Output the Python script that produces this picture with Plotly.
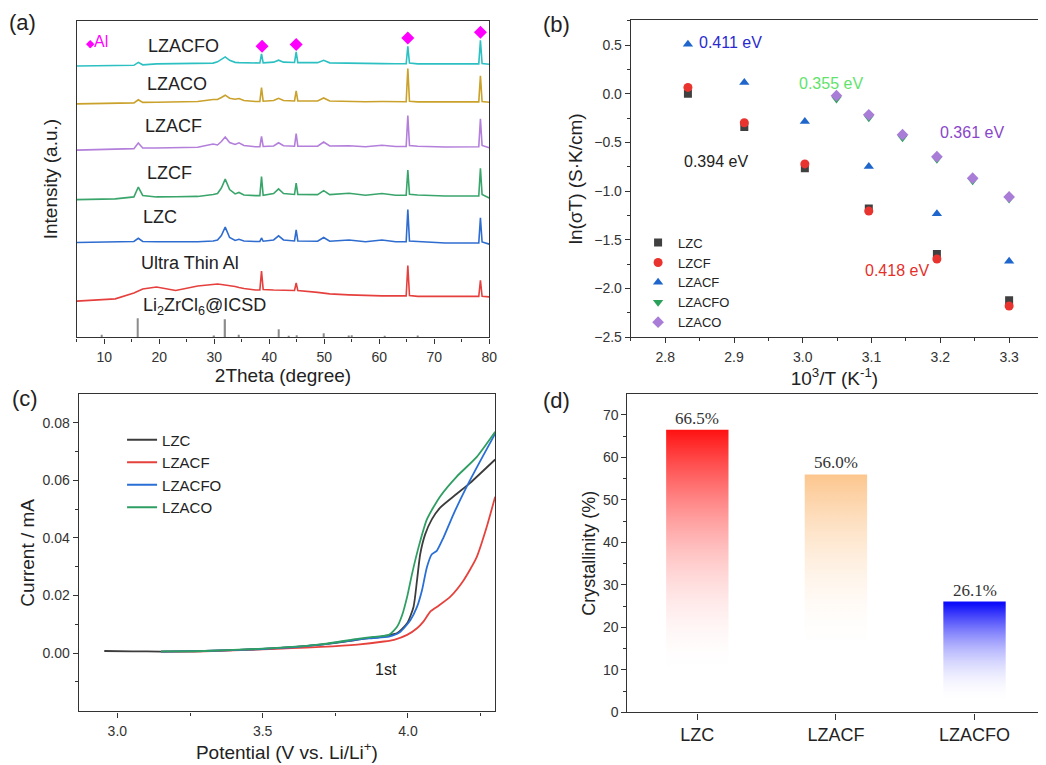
import plotly.graph_objects as go

W, H = 1046, 765
FONT = "Liberation Sans, Arial, sans-serif"
SERIF = "Liberation Serif, Times New Roman, serif"

# ---------------- (a) XRD ----------------
XRD_X = [5, 12, 15.4, 16.2, 17.0, 19.5, 23, 27, 29.8, 30.6, 31.3, 32.0, 32.8, 33.8, 34.5, 35.4,
         37.5, 38.3, 38.6, 38.9, 40.8, 41.7, 42.6, 44.6, 44.9, 45.2, 48.8, 49.9, 51.0, 54.5,
         57.5, 60.5, 63, 64.9, 65.2, 65.5, 67, 72, 78.1, 78.4, 78.7, 80]
LZACFO_Y = [274.3, 274.7, 275, 278, 275.5, 276.5, 276.5, 276.5, 277.2, 278.5, 281, 283.5, 280, 278,
            277.7, 277.5, 277.3, 277.3, 286.5, 277.5, 278.2, 280.2, 278.2, 277.8, 288.5, 277.7,
            277.7, 280, 277.5, 277, 276.8, 276.7, 276.6, 276.6, 294.2, 277.2, 276.5, 276.4,
            276.4, 300.3, 276.7, 276]
LZACO_Y = [236, 236.5, 237, 240.2, 237.5, 237.7, 238, 238.5, 240.5, 240.5, 242.5, 244.8, 241.7,
           240.7, 241.5, 239.5, 238.5, 238.5, 252.5, 238.7, 239.5, 241.7, 239.5, 239, 249.2, 239,
           239, 242, 239, 238.4, 238.2, 238.4, 238.2, 238.2, 271.7, 238.7, 238, 238, 238, 264.3,
           238.5, 237.7]
LZACF_Y = [189.3, 190, 190.8, 196.5, 191.5, 191.5, 191.8, 192.2, 195.5, 194.5, 198, 202.5, 197,
           195, 196.7, 194, 192.7, 192.7, 203.2, 193, 193.5, 196.7, 193.7, 193.2, 206, 193.2,
           193.2, 197.5, 193.5, 193.7, 192.7, 194.2, 193, 193, 224.2, 194, 193.2, 192.5, 192.7,
           221, 194, 191.7]
LZCF_Y = [139.3, 140, 142, 152, 143.5, 142, 142.2, 142.5, 144.5, 145.5, 151, 160, 149.5, 145,
          146.5, 144, 143.3, 143.3, 162.5, 143.7, 145.5, 150.2, 145.5, 144.5, 156, 144.5, 144.3,
          148.3, 144.3, 145.7, 143.7, 145.5, 143.7, 143.7, 169.2, 144.7, 144, 143, 143, 171,
          144.5, 141]
LZC_Y = [96, 96.5, 97, 100.2, 97, 96.7, 96.7, 96.7, 97.5, 98.5, 103, 111.5, 101, 98, 99.2, 97.5,
         97, 97, 100.5, 97.2, 98.5, 102.7, 98.5, 97.5, 108.7, 97.5, 97.2, 101, 97.2, 98.5, 96.7,
         98.5, 96.7, 96.7, 129.2, 97.5, 97, 95.5, 95.5, 121, 96.5, 94.3]
AL_FOIL_Y = [36.7, 39, 45, 47, 49, 51, 47.5, 52, 54, 54, 53.5, 53, 52.5, 51.5, 50.5, 49.5, 48,
             48, 67, 48.5, 48, 48, 47.7, 47.5, 55, 47.5, 45.5, 44.7, 44, 43, 42.3, 42, 42, 42,
             72.7, 42.3, 41.5, 41.5, 41.5, 57.7, 41.5, 41]
XRD_NAMES = ["LZACFO", "LZACO", "LZACF", "LZCF", "LZC", "Ultra Thin Al"]
XRD_SERIES = [LZACFO_Y, LZACO_Y, LZACF_Y, LZCF_Y, LZC_Y, AL_FOIL_Y]
XRD_COLORS = ["#2cc0c2", "#caa12a", "#b37fda", "#3aa56b", "#2f6ccf", "#e5403d"]
XRD_LABEL_X = [17.6, 17.5, 17.0, 17.4, 16.6, 16.3]
XRD_LABEL_Y = [294.3, 256, 214, 166, 122, 75]

ICSD_X = [9.5, 16.1, 30.0, 32.0, 34.5, 41.7, 43.5, 45.0, 49.9, 54.5, 55.0, 61.0, 67.0]
ICSD_H = [2.7, 19.3, 2.0, 18.3, 2.7, 8.3, 1.8, 2.2, 4.3, 2.0, 2.2, 1.8, 2.0]

AL_PEAK_X = [38.7, 44.9, 65.2, 78.4]
AL_MARK_Y = [294.3, 296, 302.7, 308.3]

# ---------------- (b) Arrhenius ----------------
B_LZC_X = [2.833, 2.915, 3.003, 3.096, 3.195, 3.300]
B_LZC_Y = [0.0, -0.34, -0.764, -1.178, -1.646, -2.12]
B_LZCF_Y = [0.066, -0.297, -0.72, -1.205, -1.697, -2.18]
B_LZACF_Y = [0.51, 0.117, -0.283, -0.747, -1.232, -1.72]
B_LZACFO_X = [3.049, 3.096, 3.145, 3.195, 3.247, 3.300]
B_LZACFO_Y = [-0.053, -0.246, -0.452, -0.673, -0.893, -1.08]
B_LZACO_Y = [-0.019, -0.215, -0.419, -0.646, -0.866, -1.059]
EA_TEXT = ["0.411 eV", "0.355 eV", "0.361 eV", "0.394 eV", "0.418 eV"]
EA_X = [2.846, 2.992, 3.197, 2.824, 3.088]
EA_Y = [0.53, 0.11, -0.401, -0.69, -1.815]
EA_COLORS = ["#2a2ad0", "#5fe36a", "#8a45c9", "#222222", "#e5302a"]

# ---------------- (c) LSV ----------------
C_LZC_X = [2.955, 3.05, 3.15, 3.3, 3.5, 3.6, 3.7, 3.8, 3.85, 3.9, 3.93, 3.963, 3.997, 4.019,
           4.031, 4.042, 4.059, 4.082, 4.11, 4.167, 4.213, 4.3]
C_LZC_Y = [0.0007, 0.0006, 0.0005, 0.0007, 0.0014, 0.002, 0.0029, 0.0042, 0.005, 0.0055, 0.0061,
           0.0069, 0.0103, 0.016, 0.0252, 0.0343, 0.0412, 0.0464, 0.0504, 0.0552, 0.059, 0.0672]
C_LZACF_X = [3.15, 3.3, 3.5, 3.6, 3.7, 3.826, 3.917, 3.952, 3.997, 4.031, 4.053, 4.076, 4.099,
             4.145, 4.191, 4.236, 4.27, 4.3]
C_LZACF_Y = [0.0005, 0.0006, 0.0013, 0.0017, 0.0021, 0.0029, 0.004, 0.0046, 0.0063, 0.0086,
             0.0109, 0.0143, 0.016, 0.0195, 0.0252, 0.0332, 0.0435, 0.0543]
C_LZACFO_X = [3.15, 3.3, 3.5, 3.6, 3.7, 3.826, 3.88, 3.934, 3.974, 4.008, 4.031, 4.048, 4.065,
              4.082, 4.099, 4.122, 4.156, 4.202, 4.247, 4.3]
C_LZACFO_Y = [0.0005, 0.0007, 0.0014, 0.002, 0.0029, 0.0047, 0.0052, 0.0057, 0.0074, 0.0114,
              0.016, 0.0217, 0.0298, 0.0343, 0.0355, 0.0401, 0.0481, 0.0578, 0.0664, 0.0762]
C_LZACO_X = [3.15, 3.3, 3.5, 3.6, 3.7, 3.826, 3.88, 3.934, 3.963, 3.98, 3.997, 4.014, 4.036,
             4.065, 4.11, 4.167, 4.236, 4.3]
C_LZACO_Y = [0.0006, 0.0007, 0.0015, 0.0021, 0.003, 0.0049, 0.0056, 0.0063, 0.0092, 0.0132,
             0.0195, 0.0275, 0.0366, 0.0464, 0.0543, 0.0612, 0.068, 0.0768]

# ---------------- (d) Crystallinity ----------------
D_CATS = ["LZC", "LZACF", "LZACFO"]
D_VALS = [66.5, 56.0, 26.1]
D_LABELS = ["66.5%", "56.0%", "26.1%"]
D_FADE = [9, 14, 3]
D_COLORS = ["rgb(255,18,18)", "rgb(252,198,142)", "rgb(12,12,250)"]
BAR_W = 0.45

fig = go.Figure()

# (a)
for name, ys, col in zip(XRD_NAMES, XRD_SERIES, XRD_COLORS):
    fig.add_trace(go.Scatter(x=XRD_X, y=ys, mode="lines", name=name, showlegend=False,
                             line=dict(color=col, width=1.6), xaxis="x", yaxis="y"))
fig.add_trace(go.Bar(x=ICSD_X, y=ICSD_H, width=0.25, marker=dict(color="#8c8c8c", line=dict(width=0)),
                     showlegend=False, name="Li2ZrCl6@ICSD", xaxis="x", yaxis="y"))
fig.add_trace(go.Scatter(x=AL_PEAK_X, y=AL_MARK_Y, mode="markers", name="Al", showlegend=False,
                         marker=dict(symbol="diamond", size=10, color="#ff00ff"), xaxis="x", yaxis="y"))

# (b)
b_series = [
    ("LZC", B_LZC_X, B_LZC_Y, "square", "#404040", 8),
    ("LZCF", B_LZC_X, B_LZCF_Y, "circle", "#e8332e", 9),
    ("LZACF", B_LZC_X, B_LZACF_Y, "triangle-up", "#1f66cc", 9),
    ("LZACFO", B_LZACFO_X, B_LZACFO_Y, "triangle-down", "#2aa05a", 9),
    ("LZACO", B_LZACFO_X, B_LZACO_Y, "diamond", "#a97cd8", 9),
]
for name, xs, ys, sym, col, sz in b_series:
    fig.add_trace(go.Scatter(x=xs, y=ys, mode="markers", name=name, legend="legend",
                             marker=dict(symbol=sym, color=col, size=sz), xaxis="x2", yaxis="y2"))

# (c)
c_series = [
    ("LZC", C_LZC_X, C_LZC_Y, "#3c3c3c"),
    ("LZACF", C_LZACF_X, C_LZACF_Y, "#e6423d"),
    ("LZACFO", C_LZACFO_X, C_LZACFO_Y, "#2a6fd6"),
    ("LZACO", C_LZACO_X, C_LZACO_Y, "#2f9e63"),
]
for name, xs, ys, col in c_series:
    fig.add_trace(go.Scatter(x=xs, y=ys, mode="lines", name=name, legend="legend2",
                             line=dict(color=col, width=1.8, shape="spline", smoothing=0.6),
                             xaxis="x3", yaxis="y3"))

# (d)
for i, (val, fade, col) in enumerate(zip(D_VALS, D_FADE, D_COLORS)):
    x0, x1 = i - BAR_W / 2, i + BAR_W / 2
    fig.add_trace(go.Scatter(
        x=[x0, x1, x1, x0, x0], y=[0, 0, val, val, 0], mode="lines", fill="toself",
        line=dict(width=0, color="rgba(0,0,0,0)"),
        fillgradient=dict(type="vertical", colorscale=[[0, "rgba(255,255,255,0)"], [1, col]],
                          start=fade, stop=val),
        showlegend=False, hoverinfo="skip", name=D_CATS[i], xaxis="x4", yaxis="y4"))

axis_common = dict(showline=True, linecolor="#333333", linewidth=1.3, ticks="outside", ticklen=5,
                   tickwidth=1.2, tickcolor="#333333", showgrid=False, zeroline=False,
                   tickfont=dict(family=FONT, size=14, color="#333333"),
                   title_font=dict(family=FONT, size=19, color="#222222"))
minor_common = dict(ticks="outside", ticklen=3, tickwidth=1, tickcolor="#333333", showgrid=False)

annotations = []
def ann(text, x, y, xref, yref, size, color="#222222", xanchor="left", yanchor="middle", family=FONT, **kw):
    annotations.append(dict(text=text, x=x, y=y, xref=xref, yref=yref, showarrow=False,
                            xanchor=xanchor, yanchor=yanchor,
                            font=dict(family=family, size=size, color=color), **kw))

# panel letters
for t, px, py in [("(a)", 23, 23), ("(b)", 561, 25), ("(c)", 25, 403), ("(d)", 561, 405)]:
    ann(t, px / W, 1 - py / H, "paper", "paper", 22, xanchor="center")

for t, x, y in zip(XRD_NAMES, XRD_LABEL_X, XRD_LABEL_Y):
    ann(t, x, y, "x", "y", 18)
ann("Li<sub>2</sub>ZrCl<sub>6</sub>@ICSD", 16.7, 31, "x", "y", 18)
ann("<span style='font-size:11px'>◆</span>Al", 85 / W, 1 - 41.7 / H, "paper", "paper", 16, color="#ff00ff")

for t, x, y, c in zip(EA_TEXT, EA_X, EA_Y, EA_COLORS):
    ann(t, x, y, "x2", "y2", 16, color=c)

ann("1st", 3.925, -0.0057, "x3", "y3", 16, xanchor="center")

for i, (val, lab) in enumerate(zip(D_VALS, D_LABELS)):
    ann(lab, i, val, "x4", "y4", 17, color="#333333", xanchor="center", yanchor="bottom",
        family=SERIF, yshift=0)

fig.update_layout(
    width=W, height=H, margin=dict(l=0, r=0, t=0, b=0),
    paper_bgcolor="white", plot_bgcolor="white",
    font=dict(family=FONT, color="#222222"),
    barmode="overlay",
    xaxis=dict(axis_common, domain=[77.3 / W, 493 / W], range=[5, 80], anchor="y", mirror=True,
               tickvals=[10, 20, 30, 40, 50, 60, 70, 80], minor=dict(minor_common, dtick=5, tick0=5),
               ticklabelstandoff=2, title=dict(text="2Theta (degree)", standoff=4)),
    yaxis=dict(axis_common, domain=[1 - 341 / H, 1 - 21 / H], range=[0, 320], anchor="x", mirror=True,
               ticks="", showticklabels=False, title=dict(text="Intensity (a.u.)", standoff=12)),
    xaxis2=dict(axis_common, domain=[635.7 / W, 1.0], range=[2.75, 3.342], anchor="y2", mirror=True,
                dtick=0.1, tick0=2.8, tickformat=".1f", minor=dict(minor_common, dtick=0.05, tick0=2.75),
                ticklabelstandoff=2, title=dict(text="10<sup>3</sup>/T (K<sup>-1</sup>)", standoff=4)),
    yaxis2=dict(axis_common, domain=[1 - 340.7 / H, 1 - 20.7 / H], range=[-2.5, 0.754], anchor="x2",
                mirror=False, dtick=0.5, tick0=0, tickformat=".1f",
                minor=dict(minor_common, dtick=0.25, tick0=0),
                title=dict(text="ln(σT) (S·K/cm)", standoff=6)),
    xaxis3=dict(axis_common, domain=[79.3 / W, 499 / W], range=[2.867, 4.30], anchor="y3", mirror=True,
                tickvals=[3.0, 3.5, 4.0], tickformat=".1f", minor=dict(minor_common, tickvals=[3.25, 3.75, 4.25]),
                ticklabelstandoff=2, title=dict(text="Potential (V vs. Li/Li<sup>+</sup>)", standoff=3)),
    yaxis3=dict(axis_common, domain=[1 - 719 / H, 1 - 398.3 / H], range=[-0.0203, 0.0899], anchor="x3",
                mirror=True, tickvals=[0, 0.02, 0.04, 0.06, 0.08], tickformat=".2f",
                minor=dict(minor_common, tickvals=[-0.01, 0.01, 0.03, 0.05, 0.07]),
                title=dict(text="Current / mA", standoff=2)),
    xaxis4=dict(axis_common, domain=[632.3 / W, 1.0], range=[-0.504, 2.458], anchor="y4", mirror=True,
                tickvals=[0, 1, 2], ticktext=D_CATS, ticklen=6,
                tickfont=dict(family=FONT, size=18, color="#222222")),
    yaxis4=dict(axis_common, domain=[1 - 720 / H, 1 - 398.3 / H], range=[0, 74.9], anchor="x4",
                mirror=False, dtick=10, tick0=0, minor=dict(minor_common, dtick=5, tick0=0),
                title=dict(text="Crystallinity (%)", standoff=2, font=dict(size=18))),
    legend=dict(x=643 / W, y=1 - 230 / H, xanchor="left", yanchor="top", bgcolor="rgba(0,0,0,0)",
                font=dict(family=FONT, size=13, color="#222222"), tracegroupgap=0, itemwidth=30),
    legend2=dict(x=123 / W, y=1 - 428 / H, xanchor="left", yanchor="top", bgcolor="rgba(0,0,0,0)",
                 font=dict(family=FONT, size=15, color="#222222"), tracegroupgap=0),
    annotations=annotations,
)

fig.write_html("out.html", config={"displayModeBar": False},
               post_script="document.body.style.margin='0px';")
